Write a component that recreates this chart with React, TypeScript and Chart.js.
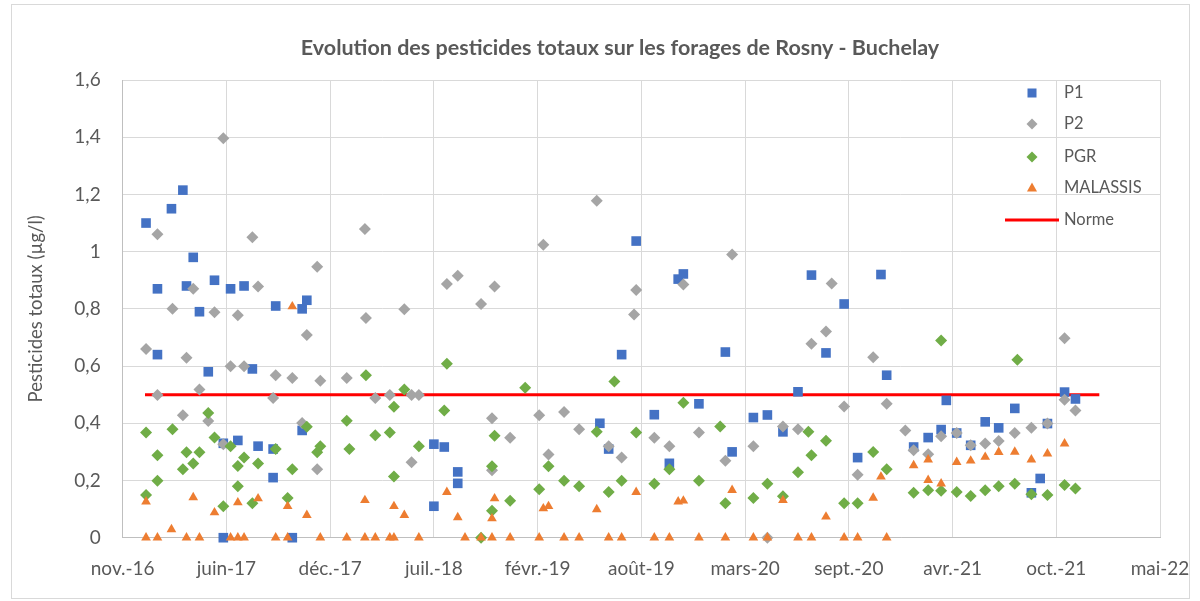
import React, { useEffect, useRef } from 'react';
import { Chart, registerables } from 'chart.js';

Chart.register(...registerables);

const chartTitle = 'Evolution des pesticides totaux sur les forages de Rosny - Buchelay';
const yAxisTitle = 'Pesticides totaux (µg/l)';

const p1Dates = ['2017-01-10','2017-02-01','2017-02-01','2017-02-28','2017-03-22','2017-03-29','2017-04-11','2017-04-23','2017-05-10','2017-05-22','2017-06-08','2017-06-08','2017-06-22','2017-07-06','2017-07-18','2017-08-03','2017-08-14','2017-09-12','2017-09-12','2017-09-17','2017-10-19','2017-11-07','2017-11-07','2017-11-16','2018-07-19','2018-07-19','2018-08-08','2018-09-03','2018-09-03','2019-06-04','2019-06-21','2019-07-16','2019-08-13','2019-09-17','2019-10-16','2019-11-02','2019-11-12','2019-12-12','2020-02-01','2020-02-14','2020-03-26','2020-04-22','2020-05-22','2020-06-20','2020-07-16','2020-08-13','2020-09-17','2020-10-13','2020-11-27','2020-12-08','2021-01-29','2021-02-26','2021-03-23','2021-04-02','2021-04-22','2021-05-19','2021-06-16','2021-07-12','2021-08-12','2021-09-13','2021-09-30','2021-10-14','2021-11-16','2021-12-07'];
const p1Values = [1.10,0.87,0.64,1.15,1.215,0.88,0.98,0.79,0.58,0.90,0.33,0,0.87,0.34,0.88,0.59,0.32,0.31,0.21,0.81,0,0.80,0.375,0.83,0.327,0.11,0.317,0.23,0.19,0.40,0.31,0.64,1.037,0.43,0.26,0.904,0.922,0.468,0.649,0.30,0.42,0.429,0.37,0.51,0.918,0.646,0.817,0.28,0.92,0.568,0.317,0.35,0.378,0.48,0.366,0.323,0.405,0.384,0.452,0.157,0.207,0.399,0.509,0.485];

const p2Dates = ['2017-01-10','2017-02-01','2017-02-01','2017-03-02','2017-03-22','2017-03-29','2017-04-11','2017-04-23','2017-05-10','2017-05-22','2017-06-08','2017-06-08','2017-06-22','2017-07-06','2017-07-18','2017-08-03','2017-08-14','2017-09-12','2017-09-17','2017-10-19','2017-11-07','2017-11-16','2017-12-06','2017-12-06','2017-12-12','2018-02-01','2018-03-08','2018-03-10','2018-03-28','2018-04-25','2018-05-23','2018-06-06','2018-06-06','2018-06-20','2018-08-13','2018-09-03','2018-10-18','2018-11-08','2018-11-08','2018-11-13','2018-12-13','2019-02-07','2019-02-15','2019-02-25','2019-03-27','2019-04-25','2019-05-29','2019-06-21','2019-07-16','2019-08-09','2019-08-13','2019-09-17','2019-10-16','2019-11-12','2019-12-12','2020-02-01','2020-02-14','2020-03-26','2020-04-22','2020-05-22','2020-06-20','2020-07-16','2020-08-13','2020-08-24','2020-09-17','2020-10-13','2020-11-12','2020-12-08','2021-01-13','2021-01-29','2021-02-26','2021-03-23','2021-04-22','2021-05-19','2021-06-16','2021-07-12','2021-08-12','2021-09-13','2021-10-14','2021-11-16','2021-11-16','2021-12-07'];
const p2Values = [0.66,1.061,0.499,0.80,0.428,0.629,0.87,0.518,0.408,0.788,1.396,0.327,0.599,0.778,0.599,1.05,0.878,0.488,0.568,0.558,0.401,0.709,0.947,0.239,0.549,0.558,1.079,0.768,0.488,0.499,0.799,0.499,0.264,0.499,0.887,0.916,0.817,0.418,0.236,0.878,0.349,0.428,1.024,0.291,0.439,0.379,1.178,0.32,0.28,0.78,0.866,0.349,0.32,0.885,0.368,0.269,0.99,0.32,0,0.389,0.379,0.678,0.721,0.889,0.459,0.22,0.631,0.468,0.375,0.306,0.292,0.355,0.366,0.323,0.329,0.338,0.366,0.384,0.399,0.697,0.482,0.445];

const pgrDates = ['2017-01-10','2017-01-10','2017-02-01','2017-02-01','2017-03-02','2017-03-22','2017-03-29','2017-04-11','2017-04-23','2017-05-10','2017-05-22','2017-06-08','2017-06-22','2017-07-06','2017-07-06','2017-07-18','2017-08-03','2017-08-14','2017-09-17','2017-10-10','2017-10-19','2017-11-16','2017-12-06','2017-12-12','2018-02-01','2018-02-06','2018-03-10','2018-03-28','2018-04-25','2018-05-03','2018-05-03','2018-05-23','2018-06-20','2018-08-08','2018-08-13','2018-10-18','2018-11-08','2018-11-08','2018-11-13','2018-12-13','2019-01-11','2019-02-07','2019-02-25','2019-03-27','2019-04-25','2019-05-29','2019-06-21','2019-07-02','2019-07-16','2019-08-13','2019-09-17','2019-10-16','2019-11-12','2019-12-12','2020-01-22','2020-02-01','2020-03-26','2020-04-22','2020-05-22','2020-06-20','2020-07-10','2020-07-16','2020-08-13','2020-09-17','2020-10-13','2020-11-12','2020-12-08','2021-01-29','2021-02-26','2021-03-23','2021-03-23','2021-04-22','2021-05-19','2021-06-16','2021-07-12','2021-08-12','2021-08-17','2021-09-13','2021-10-14','2021-11-16','2021-12-07'];
const pgrValues = [0.368,0.149,0.288,0.199,0.379,0.239,0.299,0.259,0.299,0.436,0.35,0.11,0.32,0.251,0.18,0.28,0.12,0.259,0.31,0.139,0.239,0.388,0.299,0.32,0.409,0.31,0.568,0.358,0.368,0.458,0.214,0.518,0.32,0.445,0.608,0,0.25,0.094,0.356,0.129,0.524,0.169,0.25,0.199,0.18,0.37,0.16,0.546,0.199,0.368,0.189,0.239,0.472,0.199,0.389,0.12,0.139,0.189,0.145,0.229,0.37,0.288,0.339,0.12,0.12,0.30,0.239,0.157,0.166,0.689,0.164,0.16,0.146,0.166,0.18,0.189,0.622,0.152,0.149,0.184,0.172];

const malassisDates = ['2017-01-10','2017-01-10','2017-02-01','2017-02-28','2017-03-29','2017-04-11','2017-04-23','2017-05-22','2017-06-22','2017-07-06','2017-07-06','2017-07-18','2017-08-14','2017-09-17','2017-10-10','2017-10-10','2017-10-19','2017-11-16','2017-12-12','2018-02-01','2018-03-08','2018-03-08','2018-03-28','2018-04-25','2018-05-03','2018-05-03','2018-05-23','2018-06-20','2018-08-13','2018-09-03','2018-09-17','2018-10-18','2018-11-08','2018-11-08','2018-11-13','2018-12-13','2019-02-07','2019-02-15','2019-02-25','2019-03-27','2019-04-25','2019-05-29','2019-06-21','2019-07-16','2019-08-13','2019-09-17','2019-10-16','2019-11-02','2019-11-12','2019-12-12','2020-02-01','2020-02-14','2020-03-26','2020-04-22','2020-05-22','2020-06-20','2020-07-16','2020-08-13','2020-09-17','2020-10-13','2020-11-12','2020-11-27','2020-12-08','2021-01-29','2021-02-26','2021-02-26','2021-03-23','2021-04-22','2021-05-19','2021-06-16','2021-07-12','2021-08-12','2021-09-13','2021-10-14','2021-11-16'];
const malassisValues = [0.126,0,0,0.029,0,0.141,0,0.088,0,0.123,0,0,0.137,0,0.11,0,0.808,0.079,0,0,0.131,0,0,0,0.11,0,0.079,0,0.159,0.071,0,0,0.067,0,0.137,0,0,0.102,0.11,0,0,0.099,0,0,0.159,0,0,0.126,0.129,0,0,0.166,0,0,0.131,0,0,0.073,0,0,0.139,0.213,0,0.253,0.273,0.201,0.189,0.264,0.269,0.282,0.299,0.30,0.273,0.294,0.329];

const normeDates = ['2017-01-08', '2022-01-22'];
const normeValues = [0.5, 0.5];

const xAxisMin = 42700;
const xAxisMax = 44700;
const xAxisStep = 200;
const yAxisMax = 1.6;
const yAxisStep = 0.2;
const monthsFr = ['janv.', 'févr.', 'mars', 'avr.', 'mai', 'juin', 'juil.', 'août', 'sept.', 'oct.', 'nov.', 'déc.'];

const EXCEL_EPOCH = Date.UTC(1899, 11, 30);
const toSerial = (iso: string) => (Date.parse(iso + 'T00:00:00Z') - EXCEL_EPOCH) / 86400000;
const serialLabel = (serial: number) => {
  const d = new Date(EXCEL_EPOCH + serial * 86400000);
  return monthsFr[d.getUTCMonth()] + '-' + String(d.getUTCFullYear() % 100).padStart(2, '0');
};
const pts = (dates: string[], values: number[]) => dates.map((d, i) => ({ x: toSerial(d), y: values[i] }));

const TEXT = '#595959';
const FONT = 'Lato, "Open Sans", sans-serif';

const legendItems = [
  { label: 'P1', style: 'rect', color: '#4472C4', y: 93 },
  { label: 'P2', style: 'rectRot', color: '#A5A5A5', y: 124 },
  { label: 'PGR', style: 'rectRot', color: '#70AD47', y: 157 },
  { label: 'MALASSIS', style: 'triangle', color: '#ED7D31', y: 188 },
  { label: 'Norme', style: 'line', color: '#FF0000', y: 220 },
];

const decorPlugin = {
  id: 'decor',
  beforeDraw(chart: any) {
    const ctx = chart.ctx;
    ctx.save();
    ctx.fillStyle = '#FFFFFF';
    ctx.fillRect(0, 0, chart.width, chart.height);
    ctx.strokeStyle = '#D9D9D9';
    ctx.lineWidth = 1;
    ctx.strokeRect(11.5, 4.5, 1178, 594);
    ctx.restore();
  },
  afterDraw(chart: any) {
    const ctx = chart.ctx;
    ctx.save();
    ctx.fillStyle = TEXT;
    ctx.font = 'bold 21.5px ' + FONT;
    ctx.textAlign = 'center';
    ctx.textBaseline = 'middle';
    ctx.fillText(chartTitle, 620, 48);
    ctx.font = '16.5px ' + FONT;
    ctx.textAlign = 'left';
    legendItems.forEach((it) => {
      const mx = 1032;
      const my = it.y;
      ctx.fillStyle = it.color;
      ctx.strokeStyle = it.color;
      if (it.style === 'rect') {
        ctx.fillRect(mx - 4.5, my - 4.5, 9, 9);
      } else if (it.style === 'rectRot') {
        ctx.beginPath();
        ctx.moveTo(mx - 5.5, my);
        ctx.lineTo(mx, my - 5.5);
        ctx.lineTo(mx + 5.5, my);
        ctx.lineTo(mx, my + 5.5);
        ctx.closePath();
        ctx.fill();
      } else if (it.style === 'triangle') {
        ctx.beginPath();
        ctx.moveTo(mx, my - 5.5);
        ctx.lineTo(mx + 5, my + 3.5);
        ctx.lineTo(mx - 5, my + 3.5);
        ctx.closePath();
        ctx.fill();
      } else {
        ctx.lineWidth = 3;
        ctx.beginPath();
        ctx.moveTo(1005, my);
        ctx.lineTo(1059, my);
        ctx.stroke();
      }
      ctx.fillStyle = TEXT;
      ctx.fillText(it.label, 1064, my);
    });
    ctx.restore();
  },
};

export default function App() {
  const canvasRef = useRef<HTMLCanvasElement | null>(null);

  useEffect(() => {
    document.body.style.margin = '0';
    const canvas = canvasRef.current;
    if (!canvas) return;
    const chart = new Chart(canvas, {
      type: 'scatter',
      data: {
        datasets: [
          {
            label: 'Norme',
            data: pts(normeDates, normeValues),
            showLine: true,
            borderColor: '#FF0000',
            borderWidth: 3,
            pointRadius: 0,
            order: 5,
          },
          {
            label: 'P1',
            data: pts(p1Dates, p1Values),
            pointStyle: 'rect',
            pointRadius: 6.8,
            backgroundColor: '#4472C4',
            borderColor: '#4472C4',
            borderWidth: 0,
            clip: false,
            order: 4,
          },
          {
            label: 'P2',
            data: pts(p2Dates, p2Values),
            pointStyle: 'rectRot',
            pointRadius: 6,
            backgroundColor: '#A5A5A5',
            borderColor: '#A5A5A5',
            borderWidth: 0,
            clip: false,
            order: 3,
          },
          {
            label: 'PGR',
            data: pts(pgrDates, pgrValues),
            pointStyle: 'rectRot',
            pointRadius: 6,
            backgroundColor: '#70AD47',
            borderColor: '#70AD47',
            borderWidth: 0,
            clip: false,
            order: 2,
          },
          {
            label: 'MALASSIS',
            data: pts(malassisDates, malassisValues),
            pointStyle: 'triangle',
            pointRadius: 5.6,
            backgroundColor: '#ED7D31',
            borderColor: '#ED7D31',
            borderWidth: 0,
            clip: false,
            order: 1,
          },
        ],
      },
      options: {
        animation: false,
        responsive: false,
        devicePixelRatio: 1,
        layout: { autoPadding: false, padding: { left: 0, right: 40, top: 80, bottom: 0 } },
        plugins: {
          legend: { display: false },
          title: { display: false },
          tooltip: { enabled: false },
        },
        scales: {
          x: {
            type: 'linear',
            min: xAxisMin,
            max: xAxisMax,
            afterFit: (scale: any) => { scale.height = 63.3; scale.paddingLeft = 0; scale.paddingRight = 0; },
            ticks: {
              stepSize: xAxisStep,
              color: TEXT,
              font: { family: FONT, size: 19 },
              padding: 20,
              maxRotation: 0,
              autoSkip: false,
              callback: (v: any) => serialLabel(Number(v)),
            },
            grid: { color: '#D9D9D9', lineWidth: 1, drawTicks: false },
            border: { color: '#BFBFBF', width: 1 },
          },
          y: {
            type: 'linear',
            min: 0,
            max: yAxisMax,
            afterFit: (scale: any) => { scale.width = 122.7; scale.paddingTop = 0; scale.paddingBottom = 0; },
            ticks: {
              stepSize: yAxisStep,
              color: TEXT,
              font: { family: FONT, size: 19 },
              padding: 22,
              callback: (v: any) => {
                const n = Number(v);
                return Math.abs(n - Math.round(n)) < 1e-9 ? String(Math.round(n)) : n.toFixed(1).replace('.', ',');
              },
            },
            grid: { color: '#D9D9D9', lineWidth: 1, drawTicks: false },
            border: { color: '#BFBFBF', width: 1 },
            title: {
              display: true,
              text: yAxisTitle,
              color: TEXT,
              font: { family: FONT, size: 18.5 },
              padding: { top: 25, bottom: 0 },
            },
          },
        },
      },
      plugins: [decorPlugin],
    } as any);
    return () => chart.destroy();
  }, []);

  return (
    <div style={{ width: 1200, height: 601, position: 'relative' }}>
      <canvas ref={canvasRef} width={1200} height={601} style={{ display: 'block', width: 1200, height: 601 }} />
    </div>
  );
}
